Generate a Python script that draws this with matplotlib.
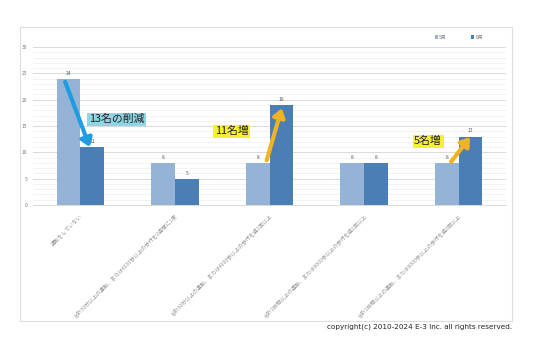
import numpy as np
import matplotlib
matplotlib.use('Agg')
import matplotlib.pyplot as plt
from matplotlib.patches import Rectangle

plt.rcParams['font.family'] = ['Noto Sans CJK JP', 'DejaVu Sans']

# データ
categories = ['運動をしていない',
              '合計30分以上の運動、または4000歩以上の歩行を2週間に1度',
              '合計30分以上の運動、または4000歩以上の歩行を週1回以上',
              '合計1時間以上の運動、または8000歩以上の歩行を週1回以上',
              '合計1時間以上の運動、または8000歩以上の歩行を週3回以上']
may_vals = [24, 8, 8, 8, 8]
aug_vals = [11, 5, 19, 8, 13]
series_names = ['5月', '8月']
yticks = [0, 5, 10, 15, 20, 25, 30]

c_may = '#95b3d7'
c_aug = '#4a7eb5'

fig = plt.figure(figsize=(5.36, 3.57), dpi=100)
fig.patch.set_facecolor('white')

# 外枠
fig.add_artist(Rectangle((0.0373, 0.1008), 0.918, 0.8235, transform=fig.transFigure,
                         fill=False, edgecolor='#dddddd', linewidth=0.8))

ax = fig.add_axes([0.0616, 0.4258, 0.8824, 0.4422])
x = np.arange(len(categories))
w = 0.25
b1 = ax.bar(x - w / 2, may_vals, w, color=c_may, label=series_names[0], zorder=3)
b2 = ax.bar(x + w / 2, aug_vals, w, color=c_aug, label=series_names[1], zorder=3)

for bars in (b1, b2):
    for r in bars:
        ax.text(r.get_x() + r.get_width() / 2, r.get_height() + 0.6, f'{int(r.get_height())}',
                ha='center', va='bottom', fontsize=3.5, color='#555555')

ax.set_xlim(-0.5, len(categories) - 0.5)
ax.set_ylim(0, 30)
ax.set_yticks(yticks)
ax.set_yticks(np.arange(0, 31, 1), minor=True)
ax.grid(axis='y', which='major', color='#d9d9d9', linewidth=0.7, zorder=0)
ax.grid(axis='y', which='minor', color='#efefef', linewidth=0.5, zorder=0)
ax.tick_params(axis='both', which='both', length=0)
ax.tick_params(axis='y', labelsize=3.5, labelcolor='#777777', pad=4)
ax.set_xticks(x)
ax.set_xticklabels(categories, rotation=45, ha='right', va='top',
                   rotation_mode='anchor', fontsize=3.8, color='#999999')
ax.tick_params(axis='x', pad=6)
for s in ['top', 'right', 'left']:
    ax.spines[s].set_visible(False)
ax.spines['bottom'].set_color('#d9d9d9')
ax.spines['bottom'].set_linewidth(0.7)

leg = ax.legend(loc='center left', bbox_to_anchor=(0.84, 1.063), ncol=2, frameon=False,
                fontsize=3.5, handlelength=0.6, handleheight=0.6, handletextpad=0.2,
                columnspacing=5.2)
for t in leg.get_texts():
    t.set_color('#777777')

# 注釈
def arrow(x0, y0, x1, y1, color):
    ax.annotate('', xy=(x1, y1), xytext=(x0, y0),
                arrowprops=dict(arrowstyle='-|>,head_length=0.5,head_width=0.35',
                                color=color, lw=3, shrinkA=0, shrinkB=0), zorder=5)

arrow(x[0] - 0.16, may_vals[0] - 0.6, x[0] + 0.1, aug_vals[0], '#1f9de0')
arrow(x[2] - 0.03, may_vals[2] + 0.5, x[2] + 0.13, aug_vals[2] - 0.6, '#f0b323')
arrow(x[4] - 0.08, may_vals[4] + 0.2, x[4] + 0.12, aug_vals[4] - 0.1, '#f0b323')

ax.text(x[0] + 0.09, 16.3, f'{may_vals[0] - aug_vals[0]}名の削減', fontsize=7.8, va='center',
        ha='left', color='#222222', zorder=6,
        bbox=dict(boxstyle='square,pad=0.15', facecolor='#8fd5e4', edgecolor='none'))
ax.text(x[1] + 0.42, 14.0, f'{aug_vals[2] - may_vals[2]}名増', fontsize=7.8, va='center',
        ha='left', color='#222222', zorder=6,
        bbox=dict(boxstyle='square,pad=0.15', facecolor='#f6f032', edgecolor='none'))
ax.text(x[3] + 0.53, 12.1, f'{aug_vals[4] - may_vals[4]}名増', fontsize=7.8, va='center',
        ha='left', color='#222222', zorder=6,
        bbox=dict(boxstyle='square,pad=0.15', facecolor='#f6f032', edgecolor='none'))

fig.text(0.955, 0.084, 'copyright(c) 2010-2024 E-3 Inc. all rights reserved.',
         ha='right', va='center', fontsize=5.2, color='#222222', family='DejaVu Sans')

fig.savefig('out.png', dpi=100)
